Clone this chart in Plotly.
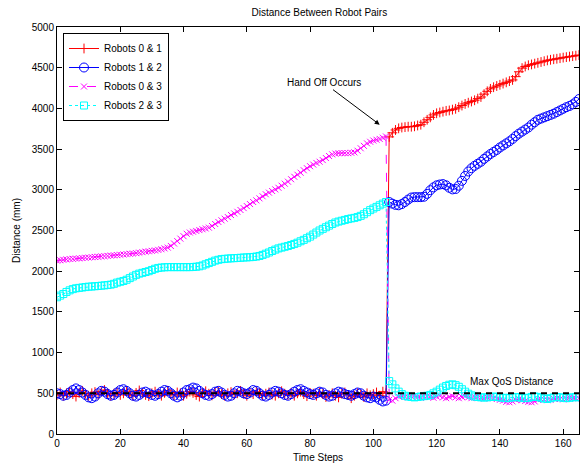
import plotly.graph_objects as go

time_steps = list(range(0, 166))

robots_01 = [
    480, 510, 470, 500, 520, 490, 460, 505, 530, 495,
    470, 500, 515, 485, 520, 540, 500, 470, 495, 510,
    480, 500, 525, 490, 470, 505, 535, 500, 480, 465,
    500, 520, 495, 470, 505, 530, 490, 480, 510, 500,
    470, 495, 520, 505, 480, 460, 500, 525, 495, 475,
    505, 520, 490, 470, 500, 515, 485, 500, 530, 495,
    470, 505, 490, 520, 500, 475, 495, 510, 485, 470,
    500, 525, 495, 480, 505, 470, 500, 520, 490, 465,
    505, 495, 470, 510, 490, 455, 480, 500, 470, 450,
    495, 510, 480, 440, 470, 500, 485, 455, 500, 475,
    490, 510, 470, 520, 500,
    3650, 3700, 3735, 3755, 3765, 3770, 3775, 3775, 3780, 3790,
    3800, 3830, 3860, 3890, 3920, 3940, 3950, 3960, 3970, 3975,
    3985, 3995, 4015, 4035, 4055, 4070, 4085, 4100, 4120, 4140,
    4175, 4210, 4240, 4260, 4275, 4290, 4305, 4320, 4335, 4350,
    4390, 4450, 4495, 4515, 4530, 4540, 4550, 4560, 4570, 4580,
    4590, 4597, 4604, 4610, 4617, 4624, 4630, 4636, 4642, 4648, 4655,
]

robots_12 = [
    500, 490, 470, 480, 510, 540, 560, 540, 510, 480,
    450, 440, 460, 500, 530, 520, 490, 470, 480, 510,
    540, 550, 530, 500, 470, 460, 480, 510, 520, 500,
    480, 470, 490, 520, 540, 530, 500, 470, 450, 470,
    510, 540, 550, 570, 560, 530, 500, 480, 470, 490,
    520, 530, 510, 480, 460, 470, 500, 530, 520, 500,
    490, 510, 540, 530, 500, 470, 460, 480, 510, 530,
    520, 500, 480, 470, 490, 520, 540, 550, 530, 510,
    490, 480, 500, 520, 510, 480, 460, 470, 500, 520,
    510, 490, 480, 470, 490, 510, 500, 470, 450, 440,
    460, 450, 420, 400, 410,
    2850, 2830, 2815, 2810, 2825, 2850, 2880, 2905, 2910, 2910,
    2910, 2915, 2950, 2995, 3030, 3055, 3065, 3070, 3055, 3025,
    3005, 3010, 3050, 3110, 3170, 3225, 3265, 3295, 3320, 3345,
    3380, 3410, 3440, 3465, 3490, 3520, 3545, 3570, 3595, 3625,
    3660, 3690, 3715, 3740, 3765, 3800, 3830, 3860, 3875, 3890,
    3905, 3920, 3935, 3955, 3975, 3995, 4015, 4030, 4050, 4080, 4115,
]

robots_03 = [
    2130, 2135, 2140, 2145, 2150, 2152, 2155, 2158, 2162, 2165,
    2168, 2172, 2175, 2178, 2182, 2185, 2188, 2192, 2195, 2198,
    2202, 2206, 2210, 2214, 2218, 2222, 2228, 2234, 2240, 2245,
    2250, 2255, 2262, 2270, 2280, 2290, 2310, 2340, 2370, 2400,
    2430, 2460, 2475, 2485, 2495, 2505, 2515, 2525, 2535, 2555,
    2580, 2605, 2625, 2645, 2665, 2690, 2710, 2730, 2752, 2775,
    2800, 2825, 2850, 2870, 2895, 2920, 2945, 2965, 2985, 3005,
    3025, 3050, 3075, 3100, 3130, 3160, 3185, 3210, 3240, 3265,
    3290, 3310, 3330, 3345, 3365, 3390, 3415, 3435, 3445, 3450,
    3450, 3450, 3450, 3455, 3460, 3480, 3510, 3540, 3570, 3590,
    3605, 3615, 3625, 3640, 3655,
    420, 410, 440, 460, 470, 460, 450, 465, 470, 455,
    445, 460, 470, 455, 445, 460, 470, 450, 440, 455,
    465, 450, 440, 455, 465, 450, 440, 455, 460, 445,
    435, 450, 455, 440, 430, 420, 410, 395, 390, 400,
    420, 430, 415, 405, 395, 390, 400, 420, 430, 425,
    415, 420, 435, 440, 430, 425, 435, 445, 440, 435, 440,
]

robots_23 = [
    1680, 1700, 1720, 1745, 1765, 1780, 1790, 1795, 1800, 1805,
    1810, 1812, 1815, 1818, 1822, 1826, 1830, 1835, 1845, 1860,
    1870, 1880, 1895, 1915, 1935, 1955, 1970, 1980, 1990, 2000,
    2015, 2030, 2040, 2045, 2048, 2050, 2050, 2050, 2050, 2050,
    2050, 2050, 2050, 2052, 2055, 2060, 2070, 2085, 2100, 2115,
    2130, 2140, 2148, 2152, 2155, 2158, 2160, 2162, 2165, 2168,
    2170, 2172, 2175, 2180, 2187, 2200, 2215, 2230, 2248, 2265,
    2280, 2290, 2300, 2310, 2322, 2335, 2350, 2368, 2385, 2405,
    2425, 2450, 2475, 2500, 2520, 2540, 2560, 2580, 2598, 2610,
    2620, 2630, 2640, 2648, 2655, 2665, 2680, 2700, 2725, 2750,
    2770, 2790, 2810, 2830, 2850,
    650, 610, 560, 520, 490, 470, 460, 455, 450, 455,
    460, 465, 470, 480, 500, 520, 545, 570, 590, 605,
    610, 600, 580, 550, 520, 495, 475, 460, 455, 450,
    448, 450, 455, 460, 455, 450, 445, 440, 445, 450,
    455, 450, 445, 440, 445, 455, 460, 455, 445, 435,
    430, 440, 450, 455, 450, 445, 440, 445, 450, 455, 450,
]

qos_x = [0, 165]
qos_y = [500, 500]

series_names = ["Robots 0 & 1", "Robots 1 & 2", "Robots 0 & 3", "Robots 2 & 3"]

FONT = "Liberation Sans, Arial, Helvetica, sans-serif"

fig = go.Figure()

fig.add_trace(go.Scatter(
    x=time_steps, y=robots_01, name=series_names[0], mode="lines+markers",
    line=dict(color="#ff0000", width=1),
    marker=dict(symbol="cross-thin", size=7, line=dict(width=1, color="#ff0000"), color="#ff0000"),
))
fig.add_trace(go.Scatter(
    x=time_steps, y=robots_12, name=series_names[1], mode="lines+markers",
    line=dict(color="#0000ff", width=1),
    marker=dict(symbol="circle-open", size=9, line=dict(width=1, color="#0000ff"), color="#0000ff"),
))
fig.add_trace(go.Scatter(
    x=time_steps, y=robots_03, name=series_names[2], mode="lines+markers",
    line=dict(color="#ff00ff", width=1, dash="dash"),
    marker=dict(symbol="x-thin", size=6, line=dict(width=1, color="#ff00ff"), color="#ff00ff"),
))
fig.add_trace(go.Scatter(
    x=time_steps, y=robots_23, name=series_names[3], mode="lines+markers",
    line=dict(color="#00ffff", width=1, dash="dot"),
    marker=dict(symbol="square-open", size=7, line=dict(width=1, color="#00ffff"), color="#00ffff"),
))
fig.add_trace(go.Scatter(
    x=qos_x, y=qos_y, mode="lines", showlegend=False,
    line=dict(color="black", width=2, dash="6px,5px"),
))

fig.add_annotation(
    x=102, y=3800, xref="x", yref="y", text="Hand Off Occurs",
    showarrow=True, arrowhead=2, arrowsize=1, arrowwidth=1, arrowcolor="black",
    ax=-56, ay=-42, font=dict(family=FONT, size=10, color="black"),
)
fig.add_annotation(
    x=143.8, y=640, xref="x", yref="y", text="Max QoS Distance",
    showarrow=False, font=dict(family=FONT, size=10, color="black"),
)

axis_common = dict(
    showline=True, linecolor="black", linewidth=1, mirror="ticks",
    ticks="inside", ticklen=5, tickcolor="black", tickwidth=1,
    showgrid=False, zeroline=False,
    tickfont=dict(family=FONT, size=10, color="black"),
)

fig.update_layout(
    width=586, height=468,
    margin=dict(l=57, r=7, t=27, b=34),
    paper_bgcolor="white", plot_bgcolor="white",
    title=dict(text="Distance Between Robot Pairs", x=0.545, xanchor="center",
               y=1 - 12 / 468, yanchor="middle", yref="container",
               font=dict(family=FONT, size=10, color="black")),
    xaxis=dict(range=[0, 165], tickvals=[0, 20, 40, 60, 80, 100, 120, 140, 160],
               title=dict(text="Time Steps", font=dict(family=FONT, size=10, color="black"), standoff=5),
               **axis_common),
    yaxis=dict(range=[0, 5000], tickvals=list(range(0, 5001, 500)),
               title=dict(text="Distance (mm)", font=dict(family=FONT, size=10, color="black"), standoff=9),
               **axis_common),
    legend=dict(x=6 / 522, y=1 - 6 / 407, xanchor="left", yanchor="top",
                bgcolor="white", bordercolor="black", borderwidth=1, itemwidth=30,
                font=dict(family=FONT, size=10, color="black"), tracegroupgap=0),
    showlegend=True,
)

fig.write_html("out.html")
